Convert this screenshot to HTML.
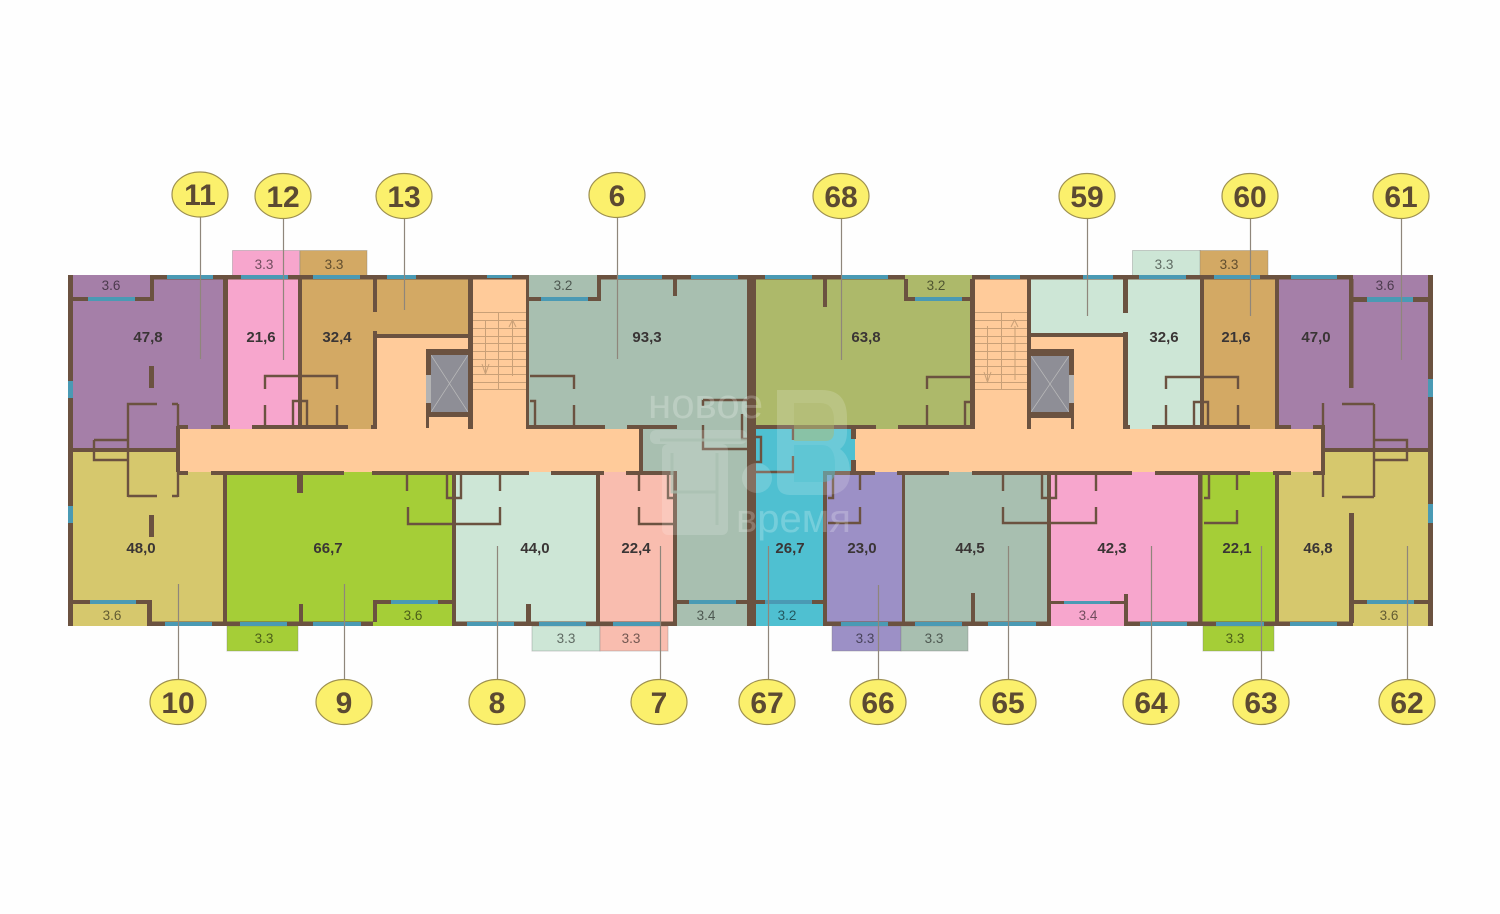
<!DOCTYPE html>
<html><head><meta charset="utf-8"><style>
html,body{margin:0;padding:0;background:#fff}
svg{display:block}
.a{font:bold 15px "Liberation Sans",sans-serif;fill:#3a3535;text-anchor:middle}
.b{font:13.5px "Liberation Sans",sans-serif;fill:#000;fill-opacity:.55;text-anchor:middle}
.n{font:bold 30px "Liberation Sans",sans-serif;fill:#5c4a32;text-anchor:middle}
.e{fill:#fbf06c;stroke:#9d9050;stroke-width:1.2}
.w{fill:#4a9ab4}
</style></head><body>
<svg width="1500" height="914" viewBox="0 0 1500 914" xmlns="http://www.w3.org/2000/svg">
<rect width="1500" height="914" fill="#fefefe"/>
<!-- balconies -->
<g stroke-width="1" stroke-opacity=".35" stroke="#777">
<rect x="232.500" y="250.500" width="67" height="25" fill="#f7a6cd"/>
<rect x="300" y="250.500" width="67" height="25" fill="#d3a964"/>
<rect x="1132.500" y="250.500" width="68" height="25" fill="#cde6d6"/>
<rect x="1200" y="250.500" width="68" height="25" fill="#d3a964"/>
<rect x="227" y="626" width="71" height="25" fill="#a5ce37"/>
<rect x="532" y="626" width="68" height="25" fill="#cde6d6"/>
<rect x="600" y="626" width="68" height="25" fill="#f9bdaf"/>
<rect x="832" y="626" width="69" height="25" fill="#9c90c6"/>
<rect x="901" y="626" width="67" height="25" fill="#a8bfb0"/>
<rect x="1203" y="626" width="71" height="25" fill="#a5ce37"/>
</g>
<!-- rooms -->
<rect x="70" y="275" width="155" height="175" fill="#a57fa8"/>
<rect x="70" y="450" width="155" height="176" fill="#d6c86d"/>
<rect x="225" y="275" width="76" height="155" fill="#f7a6cd"/>
<rect x="300" y="275" width="170" height="155" fill="#d3a964"/>
<rect x="225" y="472" width="230" height="154" fill="#a5ce37"/>
<rect x="455" y="472" width="143" height="154" fill="#cde6d6"/>
<rect x="527" y="275" width="222" height="155" fill="#a8bfb0"/>
<rect x="640" y="429" width="108" height="44" fill="#a8bfb0"/>
<rect x="675" y="472" width="73" height="154" fill="#a8bfb0"/>
<rect x="598" y="472" width="77" height="154" fill="#f9bdaf"/>
<rect x="750" y="275" width="222" height="155" fill="#adb96a"/>
<rect x="755" y="429" width="100" height="44" fill="#4fc0d1"/>
<rect x="755" y="472" width="70" height="154" fill="#4fc0d1"/>
<rect x="825" y="472" width="78" height="154" fill="#9c90c6"/>
<rect x="903" y="472" width="146" height="154" fill="#a8bfb0"/>
<rect x="1049" y="472" width="151" height="154" fill="#f7a6cd"/>
<rect x="1200" y="472" width="77" height="154" fill="#a5ce37"/>
<rect x="1277" y="450" width="152" height="176" fill="#d6c86d"/>
<rect x="1277" y="275" width="152" height="175" fill="#a57fa8"/>
<rect x="1202" y="275" width="75" height="155" fill="#d3a964"/>
<rect x="1030" y="275" width="172" height="60" fill="#cde6d6"/>
<rect x="1126" y="335" width="76" height="95" fill="#cde6d6"/>
<!-- corridors -->
<g fill="#ffcb9a">
<rect x="180" y="429" width="460" height="43"/>
<rect x="376" y="336" width="96" height="94"/>
<rect x="470" y="277" width="57" height="153"/>
<rect x="855" y="429" width="467" height="43"/>
<rect x="972" y="277" width="57" height="153"/>
<rect x="1030" y="336" width="96" height="94"/>
</g>
<!-- stairs -->
<g stroke="#c9a077" stroke-width="1" fill="none">
<path d="M472 312.500H526M472 320.500H526M472 328.500H526M472 336.500H526M472 343.500H526M472 351.500H526M472 359.500H526M472 366.500H526M472 374.500H526M472 382.500H526M472 389.500H526M498.500 312V389M485.500 320V373M512.500 320V376M482 364l3.500 10 3.500-10M509 327l3.500-7 3.500 7"/>
<path d="M975 312.500H1027M975 320.500H1027M975 328.500H1027M975 336.500H1027M975 343.500H1027M975 351.500H1027M975 359.500H1027M975 366.500H1027M975 374.500H1027M975 382.500H1027M975 389.500H1027M1001.500 312V389M987.500 326V380M1015 326V380M984 372l3.500 10 3.500-10M1011 327l3.500-7 3.500 7"/>
</g>
<!-- elevators -->
<rect x="431" y="355" width="37" height="57" fill="#8e8e96"/>
<rect x="426" y="375" width="5" height="28" fill="#b3b3b3"/>
<path d="M431 355L468 412M468 355L431 412" stroke="#bbb" stroke-width=".7"/>
<rect x="1031" y="356" width="38" height="56" fill="#8e8e96"/>
<rect x="1069" y="375" width="5" height="28" fill="#b3b3b3"/>
<path d="M1031 356L1069 412M1069 356L1031 412" stroke="#bbb" stroke-width=".7"/>
<!-- thick walls -->
<path fill="#6b5240" d="
M68 275h5v351h-5z M1428 275h5v351h-5z
M150 275h379v4.500h-379z M597 275h308v4.500h-308z M972 275h381v4.500h-381z
M147 621.500h226v4.500h-226z M452 621.500h225v4.500h-225z M823 621.500h228v4.500h-228z M1124 621.500h229v4.500h-229z
M73 297h81v4h-81z M150 275h4v26h-4z
M223 279h5v150h-5z M298 279h4v148h-4z
M373 279h4v33h-4z M373 331h4v98h-4z M377 334h95v4h-95z M468 279h5v150h-5z
M526 279h3v150h-3z M529 297h72v4h-72z M597 279h4v22h-4z M673 279h4v17h-4z
M747 276h9v350h-9z M823 279h4v28h-4z M904 279h4v22h-4z M908 297h64v4h-64z M970 279h5v150h-5z
M1027 279h4v150h-4z M1031 333h93v4h-93z M1123 279h5v34h-5z M1123 332h5v97h-5z
M1200 279h4v148h-4z M1275 279h4v150h-4z M1349 279h4.500v109h-4.500z M1353 297h75v5h-75z
M149 366h5v22h-5z M149 515h5v22h-5z M1349 513h5v110h-5z
M178 425h10v4h-10z M211 425h19v4h-19z M252 425h96v4h-96z M371 425h6v4h-6z
M526 425h79v4h-79z M627 425h50v4h-50z M639 429h4v44h-4z
M756 425h120v4h-120z M851 429h5v10h-5z M851 460h5v12h-5z
M898 425h77v4h-77z M1027 425h4v4h-4z M1123 425h7v4h-7z M1152 425h98v4h-98z M1275 425h16v4h-16z M1313 425h12v4h-12z
M176 426h4v46h-4z M1321 426h4v46h-4z
M73 448h105v4h-105z M1325 448h105v4h-105z
M177 471h11v4h-11z M211 471h133v4h-133z M372 471h157v4h-157z M551 471h53v4h-53z M626 471h51v4h-51z
M823 471h52v4h-52z M897 471h52v4h-52z M972 471h160v4h-160z M1155 471h95v4h-95z M1273 471h18v4h-18z M1313 471h12v4h-12z
M223 472h4v150h-4z M297 475h6v18h-6z M299 604h4v18h-4z
M373 600h79v4h-79z M373 600h4v22h-4z M452 472h4v150h-4z
M526 604h5v18h-5z M596 472h4v150h-4z M673 472h4v150h-4z
M677 600h70v4h-70z M756 600h67v4h-67z M823 472h4v150h-4z
M902 472h3v150h-3z M971 593h4v29h-4z M1047 472h4v150h-4z
M1051 601h76v3h-76z M1124 594h4v28h-4z M1198 472h4.500v150h-4.500z M1275 472h4v150h-4z
M1353 600h75v4h-75z
M73 600h79v4h-79z M147 600h5v26h-5z
M426 349h47v6h-47z M426 349h5v26h-5z M426 403h5v14h-5z M431 412h42v5h-42z M426 417h3v11h-3z
M1027 349h47v7h-47z M1069 349h5v26h-5z M1069 403h5v15h-5z M1031 412h43v6h-43z M1071 418h3v11h-3z
"/>
<!-- thin walls -->
<path fill="none" stroke="#6b5240" stroke-width="2.400" d="
M128 497V404H157 M178 404V497 M172 496H178 M128 496H157 M94 440H128M94 440V460H128
M1374 404V497M1342 404H1374M1342 497H1374M1374 440H1407V460H1374 M1323 403V429M1323 473V497
M178 404H172 M265 389V376H337V389 M265 405V425 M337 405V425 M293 425V401H307V425 M300 401V425
M407 475V491 M408 507V524H452 M447 475V498H461V475 M454 475V498
M500 475V491 M500 507V524H456
M530 376H574V389 M574 405V425 M530 401H535V425
M639 475V491 M639 507V524H673 M668 475V498H673
M703 425V449H747 M703 400H747V400 M703 400V406 M742 414V439H747
M756 437H761V462H756 M756 472H793V456 M793 429V440
M828 498H833V475 M860 475V490 M860 507V523H828
M1003 475V491 M1003 507V523H1096V507 M1096 475V491 M1042 475V498H1056V475 M1049 475V498
M1204 498H1209V475 M1237 475V490 M1237 510V523H1204
M927 389V377H971 M927 405V425 M965 425V402H971
M1166 389V377H1238V389 M1166 405V425 M1238 405V425 M1194 425V402H1208V425
"/>
<!-- windows -->
<g class="w">
<rect x="88" y="297" width="47" height="4"/><rect x="167" y="275" width="46" height="4"/><rect x="241" y="275" width="47" height="4"/><rect x="313" y="275" width="47" height="4"/><rect x="387" y="275" width="29" height="4"/><rect x="487" y="275" width="25" height="3"/><rect x="541" y="297" width="47" height="4"/><rect x="617" y="275" width="45" height="4"/><rect x="691" y="275" width="47" height="4"/><rect x="765" y="275" width="47" height="4"/><rect x="842" y="275" width="46" height="4"/><rect x="915" y="297" width="47" height="4"/><rect x="990" y="275" width="30" height="4"/><rect x="1083" y="275" width="30" height="4"/><rect x="1139" y="275" width="47" height="4"/><rect x="1214" y="275" width="46" height="4"/><rect x="1291" y="275" width="46" height="4"/><rect x="1367" y="297" width="46" height="5"/>
<rect x="68" y="381" width="5" height="17"/><rect x="68" y="506" width="5" height="17"/><rect x="1428" y="379" width="5" height="18"/><rect x="1428" y="504" width="5" height="19"/>
<rect x="90" y="600" width="46" height="4"/><rect x="165" y="622" width="47" height="4"/><rect x="240" y="622" width="47" height="4"/><rect x="313" y="622" width="48" height="4"/><rect x="391" y="600" width="47" height="4"/><rect x="467" y="622" width="47" height="4"/><rect x="539" y="622" width="47" height="4"/><rect x="613" y="622" width="47" height="4"/><rect x="689" y="600" width="47" height="4"/><rect x="765" y="600" width="47" height="4"/><rect x="841" y="622" width="47" height="4"/><rect x="915" y="622" width="47" height="4"/><rect x="988" y="622" width="48" height="4"/><rect x="1064" y="601" width="46" height="3"/><rect x="1140" y="622" width="47" height="4"/><rect x="1216" y="622" width="48" height="4"/><rect x="1290" y="622" width="47" height="4"/><rect x="1367" y="600" width="47" height="4"/>
</g>
<!-- watermark -->
<g fill="#fff" fill-opacity=".17">
<rect x="650" y="430" width="97" height="14" rx="6"/>
<rect x="662" y="444" width="66" height="91" rx="6"/>
<circle cx="757" cy="478" r="15"/>
<path d="M777 390H822Q847 390 847 418V432Q847 444 840 449Q850 456 850 472Q850 495 825 495H790Q777 495 777 482Z"/>
</g>
<path d="M660 440H747M672 453V492H717M717 453V525" fill="none" stroke="#a8bfb0" stroke-width="3" stroke-opacity=".7"/>
<path d="M794 403H820Q834 403 834 420V432Q834 441 825 441H794Z" fill="#adb96a" fill-opacity=".45"/>
<path d="M794 445H822Q835 445 835 465V472Q835 482 822 482H794Z" fill="#4fc0d1" fill-opacity=".45"/>
<text x="648" y="418" font-family="Liberation Sans,sans-serif" font-size="42" fill="#fff" fill-opacity=".22">новое</text>
<text x="736" y="532" font-family="Liberation Sans,sans-serif" font-size="40" fill="#fff" fill-opacity=".22">время</text>
<!-- leaders -->
<path stroke="#8f867b" stroke-width="1.200" fill="none" transform="translate(.5 0)" d="M200 217V359M283 218V360M404 218V310M617 218V359M841 218V360M1087 218V316M1250 218V316M1401 218V360M178 584V680M344 584V680M497 546V680M660 546V680M768 546V680M878 585V680M1008 546V680M1151 546V680M1261 546V680M1407 546V680"/>
<!-- areas -->
<text class="a" x="148" y="342">47,8</text><text class="a" x="261" y="342">21,6</text><text class="a" x="337" y="342">32,4</text><text class="a" x="647" y="342">93,3</text><text class="a" x="866" y="342">63,8</text><text class="a" x="1164" y="342">32,6</text><text class="a" x="1236" y="342">21,6</text><text class="a" x="1316" y="342">47,0</text>
<text class="a" x="141" y="553">48,0</text><text class="a" x="328" y="553">66,7</text><text class="a" x="535" y="553">44,0</text><text class="a" x="636" y="553">22,4</text><text class="a" x="790" y="553">26,7</text><text class="a" x="862" y="553">23,0</text><text class="a" x="970" y="553">44,5</text><text class="a" x="1112" y="553">42,3</text><text class="a" x="1237" y="553">22,1</text><text class="a" x="1318" y="553">46,8</text>
<!-- balcony labels -->
<text class="b" x="111" y="290">3.6</text><text class="b" x="264" y="269">3.3</text><text class="b" x="334" y="269">3.3</text><text class="b" x="563" y="290">3.2</text><text class="b" x="936" y="290">3.2</text><text class="b" x="1164" y="269">3.3</text><text class="b" x="1229" y="269">3.3</text><text class="b" x="1385" y="290">3.6</text>
<text class="b" x="112" y="620">3.6</text><text class="b" x="264" y="643">3.3</text><text class="b" x="413" y="620">3.6</text><text class="b" x="566" y="643">3.3</text><text class="b" x="631" y="643">3.3</text><text class="b" x="706" y="620">3.4</text><text class="b" x="787" y="620">3.2</text><text class="b" x="865" y="643">3.3</text><text class="b" x="934" y="643">3.3</text><text class="b" x="1088" y="620">3.4</text><text class="b" x="1235" y="643">3.3</text><text class="b" x="1389" y="620">3.6</text>
<!-- bubbles -->
<ellipse class="e" cx="200" cy="194.500" rx="28" ry="22.500"/><text class="n" x="200" y="205">11</text>
<ellipse class="e" cx="283" cy="196" rx="28" ry="22.500"/><text class="n" x="283" y="207">12</text>
<ellipse class="e" cx="404" cy="196" rx="28" ry="22.500"/><text class="n" x="404" y="207">13</text>
<ellipse class="e" cx="617" cy="195" rx="28" ry="22.500"/><text class="n" x="617" y="206">6</text>
<ellipse class="e" cx="841" cy="196" rx="28" ry="22.500"/><text class="n" x="841" y="207">68</text>
<ellipse class="e" cx="1087" cy="196" rx="28" ry="22.500"/><text class="n" x="1087" y="207">59</text>
<ellipse class="e" cx="1250" cy="196" rx="28" ry="22.500"/><text class="n" x="1250" y="207">60</text>
<ellipse class="e" cx="1401" cy="196" rx="28" ry="22.500"/><text class="n" x="1401" y="207">61</text>
<ellipse class="e" cx="178" cy="702" rx="28" ry="22.500"/><text class="n" x="178" y="713">10</text>
<ellipse class="e" cx="344" cy="702" rx="28" ry="22.500"/><text class="n" x="344" y="713">9</text>
<ellipse class="e" cx="497" cy="702" rx="28" ry="22.500"/><text class="n" x="497" y="713">8</text>
<ellipse class="e" cx="659" cy="702" rx="28" ry="22.500"/><text class="n" x="659" y="713">7</text>
<ellipse class="e" cx="767" cy="702" rx="28" ry="22.500"/><text class="n" x="767" y="713">67</text>
<ellipse class="e" cx="878" cy="702" rx="28" ry="22.500"/><text class="n" x="878" y="713">66</text>
<ellipse class="e" cx="1008" cy="702" rx="28" ry="22.500"/><text class="n" x="1008" y="713">65</text>
<ellipse class="e" cx="1151" cy="702" rx="28" ry="22.500"/><text class="n" x="1151" y="713">64</text>
<ellipse class="e" cx="1261" cy="702" rx="28" ry="22.500"/><text class="n" x="1261" y="713">63</text>
<ellipse class="e" cx="1407" cy="702" rx="28" ry="22.500"/><text class="n" x="1407" y="713">62</text>
</svg>
</body></html>
